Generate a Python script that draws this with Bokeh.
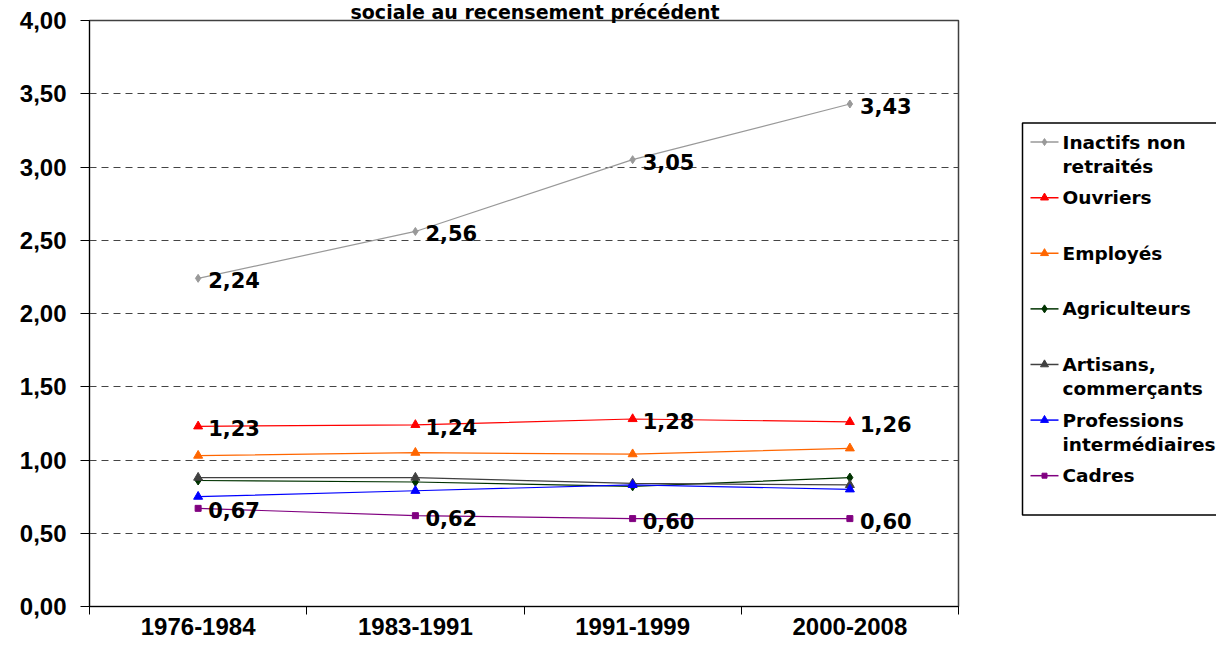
from bokeh.plotting import figure
from bokeh.models import Range1d, FixedTicker, CustomJSTickFormatter
from bokeh.layouts import row
from bokeh.core.properties import value
from bokeh.embed import file_html
from bokeh.resources import INLINE

# ---------------- data ----------------
categories = ["1976-1984", "1983-1991", "1991-1999", "2000-2008"]
title_text = "sociale au recensement précédent"

inactifs = [2.24, 2.56, 3.05, 3.43]
ouvriers = [1.23, 1.24, 1.28, 1.26]
employes = [1.03, 1.05, 1.04, 1.08]
agriculteurs = [0.86, 0.85, 0.82, 0.88]
artisans = [0.88, 0.88, 0.84, 0.83]
professions = [0.75, 0.79, 0.83, 0.80]
cadres = [0.67, 0.62, 0.60, 0.60]

series_names = ["Inactifs non\nretraités", "Ouvriers", "Employés", "Agriculteurs",
                "Artisans,\ncommerçants", "Professions\nintermédiaires", "Cadres"]
series_values = [inactifs, ouvriers, employes, agriculteurs, artisans, professions, cadres]
labelled = [True, True, False, False, False, False, True]

y_ticks = [0.0, 0.5, 1.0, 1.5, 2.0, 2.5, 3.0, 3.5, 4.0]

# ---------------- styles ----------------
colors = ["#999999", "#FF0000", "#FF6600", "#003300", "#404040", "#0000FF", "#800080"]
markers = ["diamond", "triangle", "triangle", "diamond", "triangle", "triangle", "square"]
msizes = [8, 9, 9, 9, 9, 9, 6]

LBL_FONT = value("DejaVu Sans")
AX_FONT = "Liberation Sans"

xs = [i + 0.5 for i in range(len(categories))]

MAIN_W = 990
TOTAL_W = 1216
H = 646

p = figure(width=MAIN_W, height=H, output_backend="svg", toolbar_location=None,
           x_range=Range1d(0, len(categories)), y_range=Range1d(0, 4),
           min_border_left=89, min_border_top=20, min_border_right=MAIN_W - 958,
           min_border_bottom=40)
p.background_fill_color = "white"
p.border_fill_color = "white"
p.outline_line_color = "#404040"
p.outline_line_width = 1.5

# title (second line of the original title, partly cut at the top)
p.title.text = title_text
p.title.align = "left"
p.title.offset = 261
p.title.standoff = -4
p.title.text_font = "DejaVu Sans"
p.title.text_font_style = "bold"
p.title.text_font_size = "19px"
p.title.text_color = "black"

# y axis
p.yaxis.ticker = FixedTicker(ticks=y_ticks)
p.yaxis.formatter = CustomJSTickFormatter(code="return tick.toFixed(2).replace('.', ',');")
p.yaxis.major_label_text_font = AX_FONT
p.yaxis.major_label_text_font_style = "bold"
p.yaxis.major_label_text_font_size = "24px"
p.yaxis.major_label_text_color = "black"
p.yaxis.major_tick_out = 9
p.yaxis.major_tick_in = 0
p.yaxis.minor_tick_out = 0
p.yaxis.minor_tick_in = 0
p.yaxis.major_label_standoff = 14
p.yaxis.axis_line_color = "black"
p.yaxis.major_tick_line_color = "black"

# x axis: labels at category centres, ticks between categories
p.xaxis.ticker = FixedTicker(ticks=xs, minor_ticks=list(range(len(categories) + 1)))
p.xaxis.formatter = CustomJSTickFormatter(args=dict(cats=categories),
                                          code="return cats[Math.floor(tick)];")
p.xaxis.major_label_text_font = AX_FONT
p.xaxis.major_label_text_font_style = "bold"
p.xaxis.major_label_text_font_size = "24px"
p.xaxis.major_label_text_color = "black"
p.xaxis.major_tick_out = 0
p.xaxis.major_tick_in = 0
p.xaxis.minor_tick_out = 8
p.xaxis.minor_tick_in = 0
p.xaxis.minor_tick_line_color = "black"
p.xaxis.major_label_standoff = 3
p.xaxis.axis_line_color = "black"

p.xgrid.visible = False
p.ygrid.grid_line_color = "#444444"
p.ygrid.grid_line_dash = "7 5"
p.ygrid.grid_line_width = 1

for name, vals, col, mk, ms, lab in zip(series_names, series_values, colors, markers, msizes, labelled):
    p.line(xs, vals, line_color=col, line_width=1.2)
    p.scatter(xs, vals, marker=mk, size=ms, fill_color=col, line_color=col)
    if lab:
        txt = [f"{v:.2f}".replace(".", ",") for v in vals]
        p.text(xs, vals, text=txt, x_offset=10, y_offset=2, text_font=LBL_FONT,
               text_font_style="bold", text_font_size="21px", text_color="black",
               text_baseline="middle", text_align="left")

# ---------------- legend panel ----------------
LW = TOTAL_W - MAIN_W
lg = figure(width=LW, height=H, output_backend="svg", toolbar_location=None,
            x_range=Range1d(0, LW), y_range=Range1d(H, 0),
            min_border=0, x_axis_location=None, y_axis_location=None)
lg.outline_line_color = None
lg.grid.visible = False
lg.background_fill_color = "white"
lg.border_fill_color = "white"
lg.quad(left=[32], right=[LW + 60], top=[113], bottom=[545], fill_color=None,
        line_color="black", line_width=1.5)

for i, (name, col, mk, ms) in enumerate(zip(series_names, colors, markers, msizes)):
    yc = 134 + 61.3 * i
    lg.line([40, 68], [yc, yc], line_color=col, line_width=1.5)
    lg.scatter([54], [yc], marker=mk, size=ms - 1, fill_color=col, line_color=col)
    for j, line_txt in enumerate(name.split("\n")):
        lg.text([72], [yc + 26.5 * j], text=[line_txt], text_font=LBL_FONT,
                text_font_style="bold", text_font_size="18.5px", text_color="black",
                text_baseline="middle", text_align="left")

layout = row(p, lg)
open("out.html", "w").write(file_html(layout, INLINE))
